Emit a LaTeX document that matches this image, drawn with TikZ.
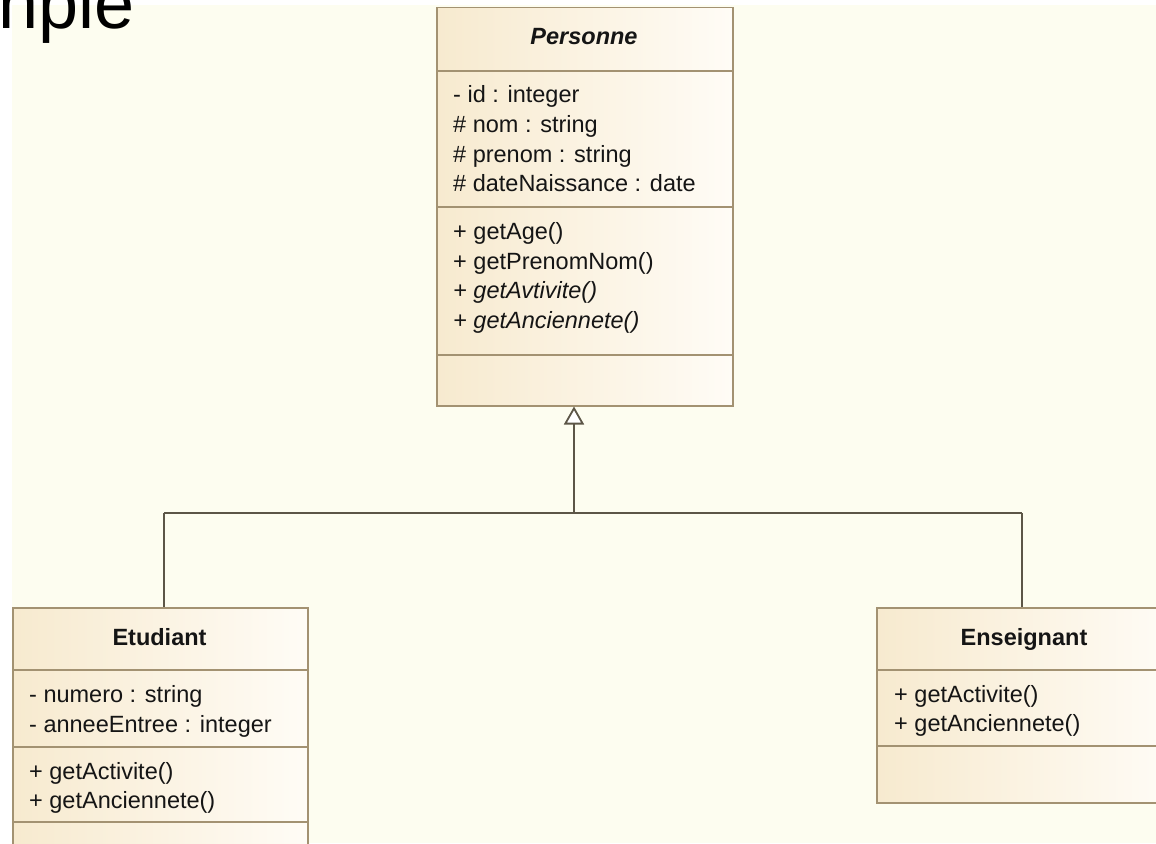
\documentclass[tikz,border=0pt]{standalone}
\usepackage{fontspec}
\setmainfont{Liberation Sans}
\usetikzlibrary{arrows.meta,shadows}
\definecolor{bg}{HTML}{FDFDF0}
\definecolor{boxL}{HTML}{F7EACF}
\definecolor{boxR}{HTML}{FFFCF6}
\definecolor{bordc}{HTML}{A39272}
\definecolor{connc}{HTML}{5C5647}
\definecolor{txt}{HTML}{151515}
\begin{document}
\begin{tikzpicture}[x=1pt,y=-1pt,
  classbox/.style={draw=bordc, line width=1.5pt, left color=boxL, right color=boxR,
    anchor=north west, inner sep=0pt,
    drop shadow={shadow xshift=1.5pt, shadow yshift=-1.5pt, opacity=0.25}},
  sepline/.style={draw=bordc, line width=1.5pt},
  member/.style={anchor=base west, inner sep=0pt, text=txt, font=\fontsize{23.5}{28}\selectfont},
  ctitle/.style={anchor=base, inner sep=0pt, text=txt, font=\fontsize{23.5}{28}\selectfont\bfseries},
  connline/.style={draw=connc, line width=1.8pt}]
\useasboundingbox (0,0) rectangle (1156,843);
\clip (0,0) rectangle (1156,843);
\fill[white] (0,0) rectangle (1156,843);
\fill[bg] (12,5) rectangle (1156,843);

\node[anchor=base west, inner sep=0pt, font=\fontsize{72}{72}\selectfont] (heading) at (-2,29) {nple};

% Personne
\node[classbox, minimum width=296pt, minimum height=398pt] (personne) at (436,7) {};
\draw[sepline] (personne.west |- 0,71) -- (personne.east |- 0,71);
\draw[sepline] (personne.west |- 0,207) -- (personne.east |- 0,207);
\draw[sepline] (personne.west |- 0,355) -- (personne.east |- 0,355);
\node[ctitle] (ptitle) at (584,45) {\itshape Personne};
\node[member] (pa1) at (453,102) {- id : integer};
\node[member] (pa2) at (453,132) {\# nom : string};
\node[member] (pa3) at (453,162) {\# prenom : string};
\node[member] (pa4) at (453,191) {\# dateNaissance : date};
\node[member] (pm1) at (453,239) {+ getAge()};
\node[member] (pm2) at (453,269) {+ getPrenomNom()};
\node[member] (pm3) at (453,298) {\itshape + getAvtivite()};
\node[member] (pm4) at (453,328) {\itshape + getAnciennete()};

% Etudiant
\node[classbox, minimum width=295pt, minimum height=270pt] (etudiant) at (12,607) {};
\draw[sepline] (etudiant.west |- 0,670) -- (etudiant.east |- 0,670);
\draw[sepline] (etudiant.west |- 0,747) -- (etudiant.east |- 0,747);
\draw[sepline] (etudiant.west |- 0,822) -- (etudiant.east |- 0,822);
\node[ctitle] (etitle) at (159.5,645) {Etudiant};
\node[member] (ea1) at (29,702) {- numero : string};
\node[member] (ea2) at (29,732) {- anneeEntree : integer};
\node[member] (em1) at (29,779) {+ getActivite()};
\node[member] (em2) at (29,808) {+ getAnciennete()};

% Enseignant
\node[classbox, minimum width=296pt, minimum height=195pt] (enseignant) at (876,607) {};
\draw[sepline] (enseignant.west |- 0,670) -- (enseignant.east |- 0,670);
\draw[sepline] (enseignant.west |- 0,746) -- (enseignant.east |- 0,746);
\node[ctitle] (ntitle) at (1024,645) {Enseignant};
\node[member] (nm1) at (894,702) {+ getActivite()};
\node[member] (nm2) at (894,731) {+ getAnciennete()};

% Generalisation
\coordinate (jm) at (574,513);
\coordinate (jl) at (164,513);
\coordinate (jr) at (1022,513);
\draw[connline] (jl) -- (jr);
\draw[connline, -{Triangle[width=20pt,length=18pt,fill=white]}] (jm) -- (jm |- personne.south);
\draw[connline] (jl) -- (jl |- etudiant.north);
\draw[connline] (jr) -- (jr |- enseignant.north);
\end{tikzpicture}
\end{document}
